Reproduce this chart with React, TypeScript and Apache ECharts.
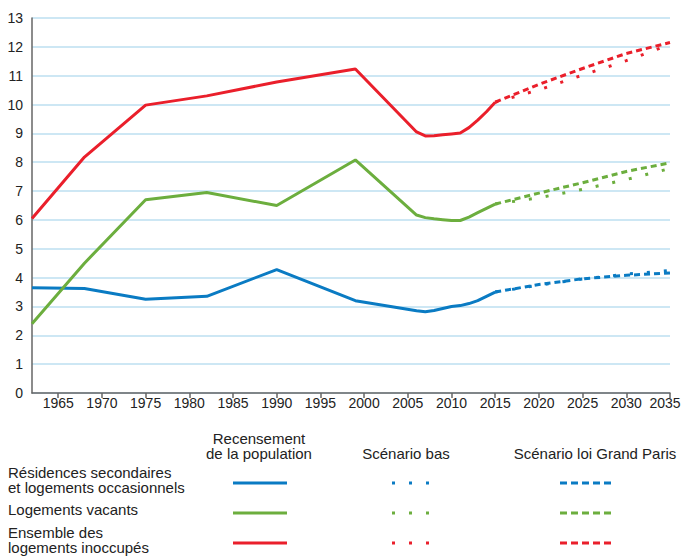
import React, { useEffect, useRef } from "react";
import * as echarts from "echarts";

// Census (Recensement de la population)
const censusYears = [1962, 1968, 1975, 1982, 1990, 1999, 2006, 2007, 2008, 2009, 2010, 2011, 2012, 2013, 2014, 2015];
const censusSecondary = [3.65, 3.62, 3.25, 3.35, 4.28, 3.2, 2.85, 2.82, 2.86, 2.93, 3.0, 3.03, 3.1, 3.2, 3.35, 3.5];
const censusVacant = [2.4, 4.5, 6.7, 6.95, 6.5, 8.08, 6.17, 6.08, 6.04, 6.01, 5.98, 5.98, 6.1, 6.25, 6.4, 6.55];
const censusTotal = [6.05, 8.18, 9.98, 10.3, 10.78, 11.23, 9.05, 8.91, 8.92, 8.95, 8.98, 9.01, 9.2, 9.46, 9.75, 10.08];

// Projections
const projYears = [2015, 2020, 2025, 2030, 2035];
const basSecondary = [3.5, 3.74, 3.95, 4.12, 4.25];
const basVacant = [6.55, 6.77, 7.06, 7.4, 7.78];
const basTotal = [10.08, 10.51, 11.02, 11.52, 12.08];
const gpSecondary = [3.5, 3.76, 3.96, 4.08, 4.16];
const gpVacant = [6.55, 6.93, 7.29, 7.68, 7.98];
const gpTotal = [10.08, 10.7, 11.25, 11.77, 12.15];

const xTicks = [1965, 1970, 1975, 1980, 1985, 1990, 1995, 2000, 2005, 2010, 2015, 2020, 2025, 2030, 2035];

const rowLabels = [
  "Résidences secondaires\net logements occasionnels",
  "Logements vacants",
  "Ensemble des\nlogements inoccupés",
];
const columnLabels = ["Recensement\nde la population", "Scénario bas", "Scénario loi Grand Paris"];

const BLUE = "#0a7bc3";
const GREEN = "#6cae3e";
const RED = "#ea1f2b";
const FONT = "'Liberation Sans', Arial, Helvetica, sans-serif";

const pairs = (xs: number[], ys: number[]) => xs.map((x, i) => [x, ys[i]]);

const DOT = [3, 14];
const DASH = [6, 4];

function line(name: string, xs: number[], ys: number[], color: string, dash?: number[]) {
  return {
    type: "line",
    name,
    data: pairs(xs, ys),
    showSymbol: false,
    symbol: "none",
    lineStyle: { color, width: 3, type: dash ? dash : "solid", cap: "butt" },
    z: dash ? 2 : 3,
  };
}

export default function App() {
  const ref = useRef<HTMLDivElement>(null);
  useEffect(() => {
    document.body.style.margin = "0";
    if (!ref.current) return;
    const chart = echarts.init(ref.current, undefined, { renderer: "svg" });

    const colors = [BLUE, GREEN, RED];
    const rowLineY = [483, 513, 543];
    const rowTextY = [480, 509, 540];
    const graphics: any[] = [];
    rowLabels.forEach((t, r) => {
      graphics.push({
        type: "text",
        x: 8,
        y: rowTextY[r],
        style: { text: t, font: `15px ${FONT}`, lineHeight: 15.5, fill: "#222", verticalAlign: "middle", align: "left" },
      });
      const y = rowLineY[r];
      graphics.push({ type: "line", shape: { x1: 233, y1: y, x2: 287, y2: y }, style: { stroke: colors[r], lineWidth: 3 } });
      graphics.push({ type: "line", shape: { x1: 392, y1: y, x2: 431, y2: y }, style: { stroke: colors[r], lineWidth: 3, lineDash: [3, 14] } });
      graphics.push({ type: "line", shape: { x1: 560, y1: y, x2: 612, y2: y }, style: { stroke: colors[r], lineWidth: 3, lineDash: [7, 4] } });
    });
    const colX = [259, 406, 595];
    const colY = [446, 453, 453];
    columnLabels.forEach((t, c) => {
      graphics.push({
        type: "text",
        x: colX[c],
        y: colY[c],
        style: { text: t, font: `15px ${FONT}`, lineHeight: 15.5, fill: "#222", verticalAlign: "middle", align: "center" },
      });
    });

    chart.setOption({
      animation: false,
      backgroundColor: "#ffffff",
      grid: { left: 32, right: 13, top: 18, bottom: 165, containLabel: false, outerBoundsMode: "none" },
      xAxis: {
        type: "value",
        min: 1962,
        max: 2035,
        axisLine: { show: true, lineStyle: { color: "#666", width: 1.5 } },
        axisTick: { show: true, length: 5, customValues: xTicks, lineStyle: { color: "#666", width: 1.5 } },
        axisLabel: {
          customValues: xTicks,
          fontSize: 14,
          color: "#222",
          margin: 3,
          fontFamily: FONT,
          formatter: (v: number) => (v === 2035 ? "{last|2035}" : String(v)),
          rich: { last: { fontSize: 14, color: "#222", fontFamily: FONT, padding: [0, 10, 0, 0] } },
        },
        splitLine: { show: false },
      },
      yAxis: {
        type: "value",
        min: 0,
        max: 13,
        interval: 1,
        axisLine: { show: true, lineStyle: { color: "#666", width: 1.5 } },
        axisTick: { show: false },
        axisLabel: { fontSize: 14, color: "#222", margin: 9, fontFamily: FONT },
        splitLine: { show: true, lineStyle: { color: "#bcdff1", width: 1.5 } },
      },
      series: [
        line("Scénario bas - Résidences secondaires", projYears, basSecondary, BLUE, DOT),
        line("Scénario bas - Logements vacants", projYears, basVacant, GREEN, DOT),
        line("Scénario bas - Ensemble", projYears, basTotal, RED, DOT),
        line("Grand Paris - Résidences secondaires", projYears, gpSecondary, BLUE, DASH),
        line("Grand Paris - Logements vacants", projYears, gpVacant, GREEN, DASH),
        line("Grand Paris - Ensemble", projYears, gpTotal, RED, DASH),
        line("Recensement - Résidences secondaires", censusYears, censusSecondary, BLUE),
        line("Recensement - Logements vacants", censusYears, censusVacant, GREEN),
        line("Recensement - Ensemble", censusYears, censusTotal, RED),
      ],
      graphic: graphics,
    });
    return () => chart.dispose();
  }, []);
  return <div ref={ref} style={{ width: 683, height: 558 }} />;
}
